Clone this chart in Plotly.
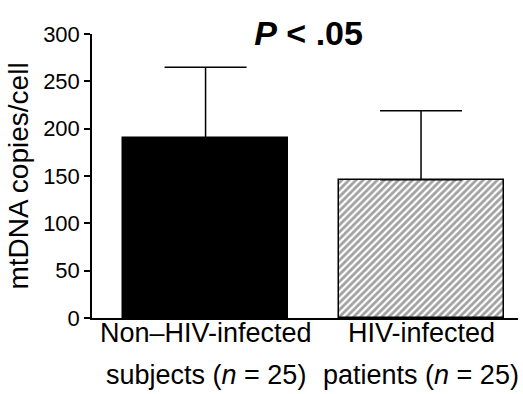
import plotly.graph_objects as go

# Data
cat_line1 = ["Non\u2013HIV-infected", "HIV-infected"]
cat_line2 = ["subjects (<i>n</i> = 25)", "patients (<i>n</i> = 25)"]
means = [190, 146]
sd_upper = [75, 73]
y_ticks = [0, 50, 100, 150, 200, 250, 300]

FONT = "Liberation Sans, Arial, sans-serif"
xs = list(range(len(means)))

fig = go.Figure()
fig.add_trace(go.Bar(
    x=xs, y=means, width=0.766,
    marker=dict(
        color=["black", "white"],
        line=dict(color="black", width=1.5),
        pattern=dict(shape=["", "/"], fgcolor="black", bgcolor="white",
                     size=5, solidity=0.55),
    ),
    error_y=dict(type="data", symmetric=False, array=sd_upper,
                 arrayminus=[0] * len(means), color="black",
                 thickness=1.5, width=41),
    showlegend=False,
))

annotations = []
for i in xs:
    annotations.append(dict(x=i, y=0, xref="x", yref="paper", text=cat_line1[i],
                            showarrow=False, yanchor="middle", yshift=-15,
                            font=dict(size=27, family=FONT, color="black")))
    annotations.append(dict(x=i, y=0, xref="x", yref="paper", text=cat_line2[i],
                            showarrow=False, yanchor="middle", yshift=-57,
                            font=dict(size=27, family=FONT, color="black")))

fig.update_layout(
    width=523, height=394,
    margin=dict(l=92, r=5, t=34, b=76),
    paper_bgcolor="white", plot_bgcolor="white",
    font=dict(family=FONT, color="black"),
    title=dict(text="<b><i>P</i> &lt; .05</b>", x=0.59, xanchor="center",
               y=1 - 33 / 394, yanchor="middle",
               font=dict(size=34, family=FONT, color="black")),
    annotations=annotations,
    xaxis=dict(range=[-0.527, 1.45], showticklabels=False, ticks="",
               showline=True, linecolor="black", linewidth=1.5,
               showgrid=False, zeroline=False),
    yaxis=dict(range=[0, 300], tickvals=y_ticks, ticks="outside", ticklen=6,
               tickwidth=1.5, tickcolor="black",
               showline=True, linecolor="black", linewidth=1.5,
               showgrid=False, zeroline=False,
               tickfont=dict(size=22, family=FONT, color="black"),
               title=dict(text="mtDNA copies/cell", standoff=6,
                          font=dict(size=28, family=FONT, color="black"))),
    bargap=0,
)

fig.write_html("out.html")
